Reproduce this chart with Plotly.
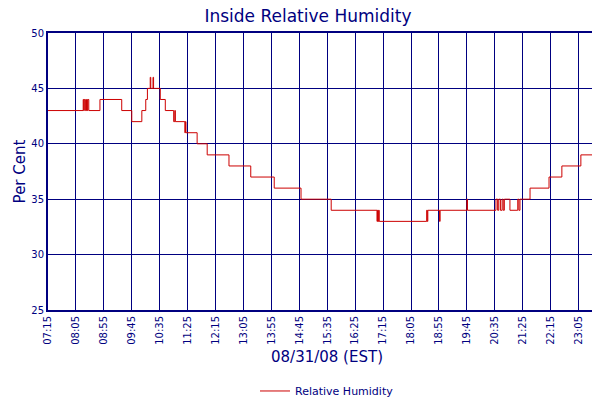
import plotly.graph_objects as go

# segment start (minutes since midnight), relative humidity (%) - step data
times = [435, 498, 499, 500, 502, 504, 505, 506, 508, 528, 567, 585, 603, 610, 613,
         618, 619, 623, 624, 636, 645, 660, 662, 663, 680, 681, 682, 702, 720,
         759, 798, 840, 888, 942, 1024, 1025, 1026, 1027, 1028, 1113, 1114, 1115,
         1136, 1137, 1185, 1186, 1237, 1240, 1242, 1245, 1248, 1250, 1252, 1262,
         1276, 1278, 1280, 1285, 1298, 1332, 1355, 1389, 1420, 1422, 1424, 1434]
values = [43, 44, 43, 44, 43, 44, 43, 44, 43, 44, 43, 42, 43, 44, 45,
          46, 45, 46, 45, 44, 43, 42, 43, 42, 41, 42, 41, 40, 39,
          38, 37, 36, 35, 34, 33, 34, 33, 34, 33, 34, 33, 34,
          33, 34, 35, 34, 35, 34, 35, 34, 35, 34, 35, 34,
          35, 34, 35, 35, 36, 37, 38, 39, 40, 39, 40, 40]
tick_vals = [435 + 50 * i for i in range(20)] + [1434]
tick_text = ["%02d:%02d" % (t // 60, t % 60) for t in tick_vals]

navy = "#000080"
fig = go.Figure(go.Scatter(x=times, y=values, mode="lines", line=dict(color="#cc0000", width=1, shape="hv"),
                           name="Relative Humidity"))
fig.update_layout(
    width=600, height=400, margin=dict(l=40, r=2, t=25, b=82),
    paper_bgcolor="white", plot_bgcolor="white",
    font=dict(family="DejaVu Sans", color=navy, size=10),
    title=dict(text="Inside Relative Humidity", x=0.5, xanchor="center", y=0.995, yanchor="top",
               font=dict(size=17, color=navy)),
    showlegend=True,
    legend=dict(orientation="h", x=0.5, xanchor="center", y=-0.24, yanchor="top", font=dict(size=11)),
)
fig.update_xaxes(range=[435, 1434], tickmode="array", tickvals=tick_vals, ticktext=tick_text,
                 tickangle=-90, showgrid=True, gridcolor=navy, gridwidth=1, showline=True, linecolor=navy,
                 linewidth=2, mirror=True, zeroline=False, ticks="", tickfont=dict(size=10),
                 automargin=False,
                 title=dict(text="08/31/08 (EST)", font=dict(size=15), standoff=8))
fig.update_yaxes(range=[25, 50], dtick=5, showgrid=True, gridcolor=navy, gridwidth=1, showline=True,
                 linecolor=navy, linewidth=2, mirror=True, zeroline=False, ticks="", tickfont=dict(size=10),
                 automargin=False,
                 title=dict(text="Per Cent", font=dict(size=15), standoff=2))
fig.write_html("out.html")
